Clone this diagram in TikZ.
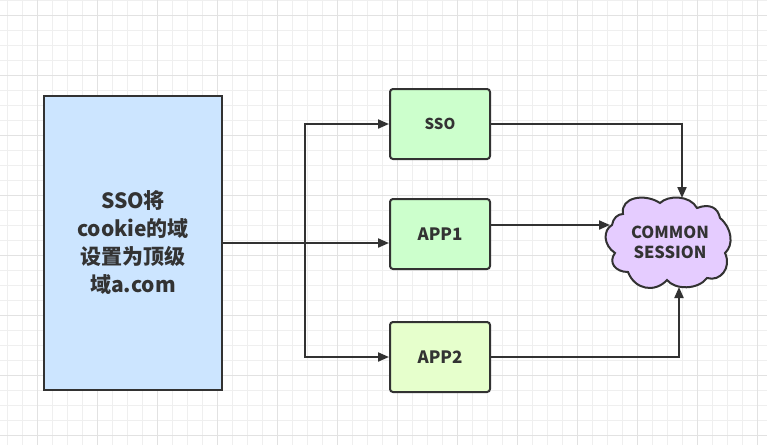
\documentclass[tikz,border=0pt]{standalone}
\usepackage{fontspec}
\setmainfont{Noto Sans CJK SC}
\usetikzlibrary{arrows.meta}
\definecolor{gridminor}{HTML}{EFEFEF}
\definecolor{gridmajor}{HTML}{E2E2E2}
\definecolor{edge}{HTML}{323232}
\definecolor{txt}{HTML}{333333}
\definecolor{bluefill}{HTML}{CCE5FF}
\definecolor{greenfill}{HTML}{CCFFCC}
\definecolor{limefill}{HTML}{E6FFCC}
\definecolor{purplefill}{HTML}{E5CCFF}
\tikzset{
  minorline/.style={draw=gridminor, line width=1pt},
  majorline/.style={draw=gridmajor, line width=1pt},
  bigbox/.style={draw=edge, line width=2pt, fill=bluefill, minimum width=178pt, minimum height=294pt, inner sep=0pt, align=center, text=txt, font=\bfseries\fontsize{21}{28}\selectfont},
  appbox/.style={draw=edge, line width=2pt, rounded corners=3pt, minimum width=100pt, minimum height=70pt, inner sep=0pt, text=txt, font=\bfseries\fontsize{17}{20}\selectfont},
  arr/.style={draw=edge, line width=2pt, -{Triangle[length=11pt,width=9pt]}},
  cloudshape/.style={draw=edge, line width=2pt, fill=purplefill},
  cloudtext/.style={align=center, text=txt, inner sep=0pt, font=\bfseries\fontsize{16.5}{20}\selectfont}
}
\begin{document}
\begin{tikzpicture}[x=1pt,y=-1pt]
\useasboundingbox (0,0) rectangle (767,445);
\fill[white] (0,0) rectangle (767,445);
% grid
\foreach \gx in {7,22,...,767} \draw[minorline] (\gx,0) -- (\gx,445);
\foreach \gy in {0,15,...,445} \draw[minorline] (0,\gy) -- (767,\gy);
\foreach \gx in {37,97,...,767} \draw[majorline] (\gx,0) -- (\gx,445);
\foreach \gy in {15,75,...,445} \draw[majorline] (0,\gy) -- (767,\gy);

% nodes
\node[bigbox] (L) at (133,243) {SSO将\\cookie的域\\设置为顶级\\域a.com};
\node[appbox, fill=greenfill, font=\bfseries\fontsize{15}{18}\selectfont] (sso) at (440,124) {SSO};
\node[appbox, fill=greenfill] (app1) at (440,234) {APP1};
\node[appbox, fill=limefill] (app2) at (440,357) {APP2};

% cloud
\draw[cloudshape] (623,214)
  .. controls (620,197) and (645,193) .. (660,203)
  .. controls (668,195) and (690,195) .. (697,208)
  .. controls (710,203) and (718,208) .. (720,218)
  .. controls (732,228) and (734,245) .. (725,253)
  .. controls (732,268) and (720,282) .. (707,278)
  .. controls (698,290) and (675,290) .. (667,280)
  .. controls (655,293) and (635,290) .. (628,272)
  .. controls (615,272) and (608,262) .. (615,253)
  .. controls (603,245) and (603,230) .. (612,225)
  .. controls (613,218) and (618,214) .. (623,214) -- cycle;
\node[cloudtext] (cloud) at (670,242) {COMMON\\SESSION};
\coordinate (ctop) at (682,198);
\coordinate (cleft) at (610,225);
\coordinate (cbot) at (679,287);
\coordinate (jn) at (305,243);

% connectors
\draw[arr] (L.east) -- (L.east -| app1.west);
\draw[arr] (jn) |- (sso.west);
\draw[arr] (jn) |- (app2.west);
\draw[arr] (sso.east) -| (ctop);
\draw[arr] (app1.east |- cleft) -- (cleft);
\draw[arr] (app2.east) -| (cbot);
\end{tikzpicture}
\end{document}
